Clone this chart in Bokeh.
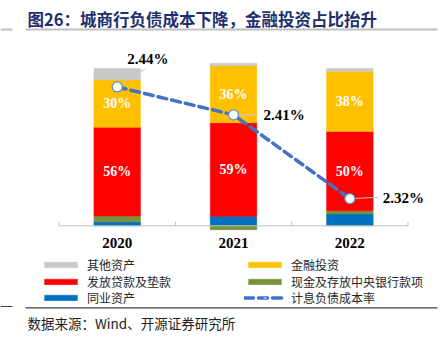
from bokeh.plotting import figure
from bokeh.models import (ColumnDataSource, Range1d, Legend, LegendItem)
from bokeh.core.properties import value
from bokeh.embed import file_html
from bokeh.resources import INLINE

# ---------------- data ----------------
years = ["2020", "2021", "2022"]
interbank = [2.5, 6.0, 7.5]      # 同业资产
cash = [3.7, -2.5, 2.0]          # 现金及存放中央银行款项
loans = [56, 59, 50]             # 发放贷款及垫款
invest = [30, 36, 38]            # 金融投资
other = [7.0, 1.5, 1.7]          # 其他资产
cost_rate = [2.44, 2.41, 2.32]   # 计息负债成本率

series_names = ["同业资产", "现金及存放中央银行款项", "发放贷款及垫款", "金融投资", "其他资产"]
series_vals = [interbank, cash, loans, invest, other]
series_cols = ["#0070C0", "#77933C", "#FF0000", "#FFC000", "#C9C9C9"]
labelled = {"发放贷款及垫款", "金融投资"}

title_text = "图26：城商行负债成本下降，金融投资占比抬升"
source_text = "数据来源：Wind、开源证券研究所"
line_name = "计息负债成本率"

# ---------------- layout (pixel <-> data helpers) ----------------
W, H = 442, 338
CAT_PX = 116.33                  # px per category
X0 = 0.5 - 116.7 / CAT_PX        # x-range start
X1 = X0 + W / CAT_PX
PCT_PX = 1.585                   # px per percent
BASE_PY = 225.3                  # pixel row of 0 %
Y1 = BASE_PY / PCT_PX
Y0 = Y1 - H / PCT_PX
RATE_PX = 931.5                  # px per rate unit
R1 = 2.39 + 133 / RATE_PX
R0 = R1 - H / RATE_PX
CJK = "Noto Sans CJK SC"
SERIF = "Liberation Serif"


def px2x(px):
    return X0 + px / CAT_PX


def py2y(py):
    return Y1 - py / PCT_PX


p = figure(width=W, height=H, x_range=Range1d(X0, X1), y_range=Range1d(Y0, Y1),
           output_backend="svg", toolbar_location=None, min_border=0,
           x_axis_location=None, y_axis_location=None, outline_line_color=None)
p.extra_y_ranges = {"rate": Range1d(R0, R1)}
p.xgrid.visible = False
p.ygrid.visible = False

xc = [i + 0.5 for i in range(len(years))]   # category centres

# ---------------- stacked bars ----------------
pos_cum = [0.0] * len(years)
neg_cum = [0.0] * len(years)
bar_r = {}
label_x, label_y, label_t = [], [], []
for name, vals, col in zip(series_names, series_vals, series_cols):
    bottoms, tops = [], []
    for i, v in enumerate(vals):
        if v >= 0:
            b, t = pos_cum[i], pos_cum[i] + v
            pos_cum[i] = t
        else:
            b, t = neg_cum[i] + v, neg_cum[i]
            neg_cum[i] = b
        bottoms.append(b)
        tops.append(t)
        if name in labelled:
            label_x.append(xc[i])
            label_y.append((b + t) / 2)
            label_t.append(f"{v:.0f}%")
    src = ColumnDataSource(dict(x=xc, bottom=bottoms, top=tops))
    bar_r[name] = p.vbar(x="x", bottom="bottom", top="top", width=0.4, source=src,
                         fill_color=col, line_color=col, line_width=0.5)

p.text(x=label_x, y=label_y, text=label_t, text_color="white",
       text_font=value(SERIF), text_font_style="bold", text_font_size="14px",
       text_align="center", text_baseline="middle")

# baseline, category ticks and category labels
p.segment(x0=[0], y0=[0], x1=[len(years)], y1=[0], line_color="#BFBFBF", line_width=1)
bounds = list(range(len(years) + 1))
p.segment(x0=bounds, y0=[0] * len(bounds), x1=bounds, y1=[2.6] * len(bounds),
          line_color="#BFBFBF", line_width=1)
p.text(x=xc, y=[0] * len(years), text=years, y_offset=17, text_color="black",
       text_font=value(SERIF), text_font_style="bold", text_font_size="15px",
       text_align="center", text_baseline="middle")

# ---------------- rate line ----------------
lead_dx = [28, 24, 29]      # px
lead_dy = [18, 0, 1.5]      # px up
lab_dx = [10, 30, 33]
lab_dy = [-28, 0, -1]
rate_src = ColumnDataSource(dict(
    x=xc, y=cost_rate,
    x1=[x + d / CAT_PX for x, d in zip(xc, lead_dx)],
    y1=[r + d / RATE_PX for r, d in zip(cost_rate, lead_dy)],
    t=[f"{r:.2f}%" for r in cost_rate],
    ox=lab_dx, oy=lab_dy))
p.segment(x0="x", y0="y", x1="x1", y1="y1", source=rate_src, y_range_name="rate",
          line_color="#C8C8C8", line_width=1)
line_r = p.line(x="x", y="y", source=rate_src, y_range_name="rate", line_color="#4472C4",
                line_width=3.5, line_dash="9 5", line_cap="round")
mark_r = p.scatter(x="x", y="y", source=rate_src, y_range_name="rate", marker="circle",
                   size=10, fill_color="white", line_color="#5B8BD0", line_width=1.2)
p.text(x="x", y="y", text="t", source=rate_src, y_range_name="rate", x_offset="ox",
       y_offset="oy", text_color="black", text_font=value(SERIF), text_font_style="bold",
       text_font_size="15px", text_align="left", text_baseline="middle")

# ---------------- legends (one per entry, placed on a 2x3 grid) ----------------
legend_entries = [
    ("其他资产", [bar_r["其他资产"]]),
    ("发放贷款及垫款", [bar_r["发放贷款及垫款"]]),
    ("同业资产", [bar_r["同业资产"]]),
    ("金融投资", [bar_r["金融投资"]]),
    ("现金及存放中央银行款项", [bar_r["现金及存放中央银行款项"]]),
    (line_name, [line_r, mark_r]),
]
col_px = [40, 244]
row_py = [264.3, 280.7, 296.7]
for k, (lab, rends) in enumerate(legend_entries):
    cx = col_px[k // 3]
    cy = row_py[k % 3]
    lg = Legend(items=[LegendItem(label=lab, renderers=rends)],
                location=(cx, H - cy - 9), orientation="vertical",
                glyph_width=41, glyph_height=7, label_height=14, spacing=0,
                label_standoff=6, padding=0, margin=0, border_line_color=None,
                background_fill_alpha=0, label_text_font=CJK,
                label_text_font_size="12px", label_text_color="#262626")
    p.add_layout(lg, "center")

# ---------------- title, source, rules ----------------
p.text(x=[px2x(27)], y=[py2y(18)], text=[title_text], text_font=value(CJK),
       text_font_style="bold", text_font_size="16.5px", text_color="#1F2F6E",
       text_baseline="middle")
p.text(x=[px2x(27)], y=[py2y(322)], text=[source_text], text_font=value(CJK),
       text_font_size="13.5px", text_color="#222222", text_baseline="middle")

p.segment(x0=[px2x(25), px2x(0)], y0=[py2y(29)] * 2, x1=[px2x(437), px2x(12)],
          y1=[py2y(29)] * 2, line_color="#BFBFBF", line_width=1.8)
p.segment(x0=[px2x(25), px2x(0)], y0=[py2y(307.3), py2y(306)], x1=[px2x(437), px2x(12)],
          y1=[py2y(307.3), py2y(306)], line_color="#404040", line_width=1.2)

open("out.html", "w").write(file_html(p, INLINE))
